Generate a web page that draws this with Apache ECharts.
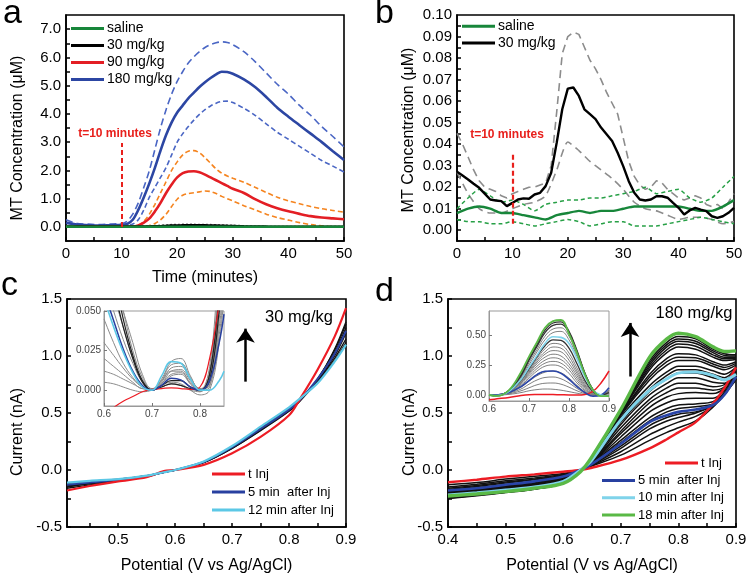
<!DOCTYPE html>
<html><head><meta charset="utf-8">
<script src="https://cdn.jsdelivr.net/npm/echarts/dist/echarts.min.js"></script>
<style>html,body{margin:0;padding:0;background:#fff}#chart{width:750px;height:579px}</style>
</head><body><div id="chart"></div>
<script>
// ---------------- DATA ----------------
// Panel a: time (minutes) and MT concentration (uM)
const timeA = [0,2,4,6,8,10,11,12,13,14,15,16,17,18,19,20,21,22,23,24,25,26,27,28,29,30,32,34,36,38,40,42,44,46,48,50];
const saline_a = [0.01,0.006,0.005,0.005,0.005,0.006,0.006,0.005,0.005,0.005,0.005,0.006,0.006,0.006,0.007,0.007,0.007,0.007,0.007,0.007,0.007,0.006,0.006,0.006,0.006,0.006,0.005,0.005,0.005,0.005,0.004,0.004,0.004,0.004,0.004,0.004];
const mg30_a = [0.02,0.02,0.02,0.02,0.02,0.02,0.02,0.02,0.02,0.02,0.02,0.025,0.03,0.04,0.05,0.055,0.06,0.063,0.065,0.064,0.06,0.055,0.05,0.045,0.04,0.035,0.025,0.02,0.015,0.012,0.01,0.01,0.01,0.01,0.01,0.01];
const mg30_a_hi = [0.04,0.03,0.03,0.03,0.03,0.03,0.03,0.03,0.03,0.035,0.04,0.05,0.06,0.075,0.085,0.09,0.095,0.095,0.095,0.09,0.088,0.085,0.08,0.075,0.07,0.06,0.045,0.03,0.025,0.02,0.02,0.018,0.016,0.015,0.015,0.015];
const mg90_a = [0.02,0.01,0.01,0.01,0.01,0.01,0.01,0.01,0.05,0.15,0.3,0.55,0.85,1.2,1.5,1.75,1.9,1.96,1.97,1.93,1.85,1.75,1.65,1.55,1.45,1.35,1.2,0.98,0.8,0.66,0.55,0.46,0.38,0.33,0.3,0.27];
const mg90_a_hi = [0.03,0.02,0.02,0.02,0.02,0.02,0.02,0.02,0.05,0.2,0.45,0.8,1.2,1.6,2.0,2.3,2.55,2.68,2.7,2.62,2.45,2.25,2.05,1.9,1.8,1.72,1.58,1.4,1.22,1.05,0.92,0.82,0.72,0.64,0.58,0.52];
const mg90_a_lo = [0,0,0,0,0,0,0,0,0,0,0.05,0.12,0.25,0.45,0.72,0.98,1.12,1.18,1.21,1.24,1.27,1.25,1.18,1.08,1.0,0.92,0.75,0.6,0.45,0.33,0.24,0.15,0.08,0.04,0.01,0.0];
const mg180_a = [0.15,0.08,0.06,0.05,0.06,0.07,0.1,0.25,0.6,1.05,1.55,2.1,2.7,3.25,3.7,4.05,4.3,4.55,4.75,4.95,5.12,5.27,5.4,5.49,5.48,5.42,5.22,4.95,4.6,4.22,3.9,3.6,3.3,3.0,2.68,2.37];
const mg180_a_hi = [0.25,0.12,0.1,0.08,0.1,0.12,0.2,0.45,0.85,1.4,2.0,2.75,3.5,4.15,4.7,5.15,5.5,5.8,6.02,6.2,6.35,6.45,6.52,6.55,6.53,6.45,6.2,5.85,5.45,5.05,4.7,4.3,3.95,3.55,3.2,2.83];
const mg180_a_lo = [0.05,0.03,0.02,0.02,0.03,0.04,0.05,0.1,0.25,0.6,1.05,1.4,1.75,2.1,2.55,3.0,3.3,3.55,3.78,3.98,4.15,4.28,4.38,4.44,4.45,4.4,4.2,3.95,3.65,3.35,3.1,2.85,2.6,2.35,2.15,1.94];

// Panel b
const timeB1 = [0,1,2,3,4,5,6,7,8,9,10,11,12,13,14,15,16,17,18,19,20,21,22,23,24,25,26,27,28,29,30,31,32,33,34,35,36,37,38,39,40,41,42,43,44,45,46,47,48,49,50];
const mg30_b = [0.0272,0.0254,0.0236,0.0216,0.0197,0.017,0.0143,0.0138,0.0135,0.0112,0.0127,0.0143,0.0148,0.0146,0.0166,0.0174,0.0205,0.0267,0.0407,0.0562,0.0658,0.0663,0.0624,0.0562,0.0539,0.0516,0.0477,0.0446,0.0415,0.036,0.0298,0.0228,0.0174,0.0143,0.0138,0.0143,0.0158,0.0158,0.0151,0.0127,0.0104,0.0073,0.0092,0.0104,0.0096,0.0089,0.0065,0.0057,0.0065,0.0081,0.0104];
const mg30_b_hi = [0.045,0.04,0.034,0.028,0.023,0.02,0.019,0.018,0.016,0.015,0.017,0.018,0.019,0.02,0.02,0.021,0.022,0.03,0.055,0.082,0.09,0.092,0.091,0.085,0.079,0.075,0.07,0.064,0.059,0.054,0.043,0.032,0.025,0.021,0.019,0.02,0.023,0.022,0.019,0.017,0.015,0.014,0.015,0.016,0.015,0.012,0.011,0.012,0.01,0.013,0.017];
const timeB2 = [0,2,4,6,8,10,12,14,16,18,20,22,24,26,28,30,32,34,36,38,40,42,44,46,48,50];
const mg30_b_lo = [0.027,0.017,0.01,0.008,0.008,0.01,0.012,0.013,0.016,0.028,0.041,0.037,0.032,0.028,0.024,0.019,0.013,0.01,0.009,0.007,0.005,0.006,0.006,0.005,0.003,0.004];
const saline_b = [0.008,0.01,0.011,0.01,0.008,0.008,0.007,0.006,0.005,0.007,0.008,0.009,0.008,0.009,0.009,0.01,0.011,0.011,0.011,0.011,0.011,0.01,0.009,0.009,0.011,0.014];
const saline_b_hi = [0.01,0.015,0.019,0.016,0.013,0.014,0.012,0.009,0.012,0.013,0.014,0.014,0.015,0.015,0.016,0.017,0.018,0.02,0.017,0.018,0.019,0.015,0.013,0.015,0.02,0.025];
const saline_b_lo = [0.005,0.004,0.004,0.003,0.003,0.004,0.003,0.002,0.003,0.004,0.005,0.004,0.002,0.003,0.004,0.004,0.002,0.002,0.002,0.003,0.004,0.005,0.006,0.005,0.004,0.003];

// Panel c (30 mg/kg voltammograms)
const potC = [0.41,0.45,0.5,0.55,0.58,0.6,0.65,0.7,0.75,0.8,0.82,0.85,0.88,0.9];
const tInj_c = [-0.18,-0.14,-0.1,-0.064,-0.01,0,0.045,0.146,0.29,0.48,0.63,0.88,1.17,1.42];
const min5_c = [-0.13,-0.11,-0.085,-0.055,-0.02,0,0.07,0.2,0.36,0.53,0.62,0.8,1.02,1.22];
const min12_c = [-0.11,-0.095,-0.08,-0.05,-0.02,0,0.075,0.21,0.38,0.55,0.63,0.76,0.95,1.1];
const others_c = [
  [-0.16,-0.13,-0.095,-0.06,-0.02,0,0.065,0.19,0.35,0.52,0.61,0.78,1.0,1.2],
  [-0.15,-0.12,-0.09,-0.055,-0.02,0,0.067,0.195,0.355,0.525,0.615,0.79,1.03,1.25],
  [-0.14,-0.115,-0.088,-0.055,-0.02,0,0.068,0.2,0.36,0.53,0.62,0.8,1.05,1.28],
  [-0.13,-0.11,-0.085,-0.05,-0.02,0,0.07,0.2,0.37,0.54,0.62,0.78,0.98,1.15],
  [-0.12,-0.1,-0.08,-0.05,-0.02,0,0.072,0.205,0.37,0.545,0.625,0.77,0.96,1.12],
  [-0.145,-0.12,-0.09,-0.055,-0.02,0,0.066,0.19,0.345,0.515,0.61,0.79,1.06,1.3]
];
// Inset c
const potCi = [0.6,0.62,0.64,0.66,0.68,0.7,0.72,0.74,0.76,0.78,0.8,0.82,0.84,0.85];
const tInj_ci = [-0.016,-0.011,-0.007,-0.004,-0.001,0.0005,0.001,0.0015,0.001,0.0005,0.002,0.02,0.055,0.08];
const min5_ci = [0.062,0.044,0.026,0.012,0.003,0.0,0.003,0.0075,0.0065,0.002,0.0,0.006,0.03,0.048];
const min12_ci = [0.058,0.04,0.024,0.011,0.002,0.0,0.009,0.018,0.017,0.007,0.0,0.0,0.006,0.012];
const grays_ci = [
  [0.08,0.06,0.04,0.02,0.006,0.0,0.004,0.012,0.013,0.006,0.0,0.004,0.04,0.07],
  [0.045,0.03,0.017,0.008,0.002,0.0,0.005,0.014,0.015,0.007,0.001,0.006,0.05,0.08],
  [0.02,0.015,0.01,0.005,0.001,0.001,0.006,0.012,0.012,0.004,0.0,0.01,0.06,0.09],
  [0.012,0.01,0.007,0.004,0.001,0.0,0.003,0.009,0.01,0.004,-0.001,0.012,0.07,0.1],
  [0.005,0.004,0.002,0.0,-0.001,0.0,0.003,0.005,0.004,0.0,-0.003,0.0,0.03,0.06],
  [0.07,0.05,0.032,0.017,0.005,0.0,0.006,0.016,0.017,0.008,0.001,0.003,0.035,0.065],
  [0.09,0.07,0.05,0.03,0.01,0.001,0.002,0.004,0.003,0.0,-0.001,0.008,0.055,0.09],
  [0.1,0.075,0.05,0.025,0.008,0.0,0.007,0.018,0.02,0.009,0.0,0.002,0.045,0.08],
  [0.03,0.022,0.014,0.007,0.002,0.0,0.004,0.01,0.011,0.005,0.0,0.015,0.08,0.1]
];
const darks_ci = [
  [0.09,0.065,0.04,0.02,0.005,0.0,0.003,0.006,0.006,0.002,0.0,0.01,0.06,0.09],
  [0.1,0.075,0.045,0.022,0.006,0.0,0.002,0.004,0.003,0.001,0.0,0.006,0.05,0.085]
];

// Panel d (180 mg/kg voltammograms)
const potD = [0.4,0.45,0.5,0.55,0.6,0.63,0.65,0.7,0.75,0.78,0.8,0.83,0.86,0.88,0.9];
const tInj_d = [-0.108,-0.085,-0.058,-0.038,-0.015,0,0.02,0.088,0.19,0.27,0.33,0.42,0.58,0.72,0.9];
const min5_d = [-0.18,-0.16,-0.13,-0.1,-0.058,0,0.053,0.23,0.42,0.48,0.51,0.53,0.57,0.66,0.82];
const min10_d = [-0.22,-0.2,-0.175,-0.15,-0.1,0,0.088,0.44,0.7,0.8,0.85,0.86,0.83,0.79,0.84];
const min18_d = [-0.228,-0.21,-0.19,-0.16,-0.117,-0.015,0.117,0.53,0.99,1.15,1.2,1.17,1.08,1.04,1.045];
const others_d = [
  [-0.13,-0.11,-0.08,-0.055,-0.03,0,0.035,0.13,0.26,0.33,0.37,0.43,0.55,0.68,0.8],
  [-0.15,-0.125,-0.095,-0.07,-0.04,0,0.04,0.16,0.31,0.38,0.42,0.47,0.56,0.67,0.8],
  [-0.16,-0.135,-0.105,-0.08,-0.045,0,0.045,0.19,0.36,0.43,0.46,0.5,0.57,0.67,0.79],
  [-0.17,-0.145,-0.115,-0.085,-0.05,0,0.05,0.21,0.39,0.46,0.49,0.51,0.56,0.66,0.8],
  [-0.18,-0.155,-0.128,-0.1,-0.06,0,0.055,0.24,0.43,0.51,0.54,0.555,0.58,0.67,0.82],
  [-0.185,-0.16,-0.135,-0.105,-0.062,0,0.058,0.26,0.46,0.54,0.57,0.58,0.6,0.68,0.83],
  [-0.19,-0.165,-0.14,-0.11,-0.067,0,0.062,0.29,0.51,0.59,0.62,0.63,0.63,0.7,0.85],
  [-0.195,-0.17,-0.145,-0.118,-0.072,0,0.066,0.32,0.55,0.64,0.67,0.68,0.67,0.72,0.86],
  [-0.2,-0.175,-0.15,-0.122,-0.077,0,0.07,0.34,0.59,0.68,0.72,0.72,0.7,0.73,0.86],
  [-0.205,-0.18,-0.155,-0.128,-0.082,0,0.074,0.37,0.62,0.72,0.76,0.76,0.73,0.75,0.87],
  [-0.21,-0.185,-0.16,-0.133,-0.087,0,0.078,0.4,0.66,0.76,0.81,0.81,0.77,0.76,0.87],
  [-0.215,-0.19,-0.165,-0.14,-0.092,0,0.082,0.42,0.69,0.8,0.85,0.85,0.81,0.79,0.88],
  [-0.22,-0.195,-0.172,-0.146,-0.098,0,0.087,0.44,0.71,0.83,0.88,0.88,0.84,0.81,0.89],
  [-0.225,-0.2,-0.178,-0.152,-0.103,0,0.092,0.46,0.74,0.86,0.91,0.91,0.87,0.84,0.9],
  [-0.23,-0.205,-0.182,-0.156,-0.107,0,0.096,0.48,0.79,0.92,0.96,0.96,0.91,0.88,0.92],
  [-0.232,-0.207,-0.184,-0.158,-0.108,-0.002,0.098,0.485,0.815,0.95,0.99,0.985,0.93,0.9,0.935],
  [-0.235,-0.21,-0.186,-0.16,-0.11,-0.005,0.1,0.49,0.84,0.98,1.02,1.01,0.95,0.92,0.95],
  [-0.24,-0.215,-0.19,-0.163,-0.113,-0.008,0.105,0.5,0.88,1.03,1.08,1.06,0.99,0.96,0.97],
  [-0.242,-0.217,-0.192,-0.165,-0.115,-0.009,0.108,0.505,0.9,1.055,1.105,1.085,1.01,0.975,0.98],
  [-0.245,-0.22,-0.195,-0.166,-0.116,-0.01,0.11,0.51,0.92,1.08,1.13,1.11,1.03,0.99,0.99],
  [-0.248,-0.222,-0.196,-0.167,-0.117,-0.011,0.112,0.515,0.94,1.1,1.15,1.13,1.045,1.005,1.0],
  [-0.25,-0.225,-0.198,-0.168,-0.118,-0.012,0.113,0.52,0.96,1.12,1.17,1.15,1.06,1.02,1.01]
];
// Inset d
const potDi = [0.6,0.62,0.65,0.68,0.7,0.72,0.74,0.76,0.78,0.8,0.82,0.84,0.86,0.88,0.9];
const tInj_di = [-0.04,-0.032,-0.02,-0.005,0.002,0.004,0.005,0.004,0.002,0.0,0.0,0.005,0.03,0.1,0.2];
const min5_di = [0.0,0.0,0.02,0.07,0.12,0.17,0.198,0.2,0.18,0.13,0.07,0.02,-0.01,0.0,0.06];
const min10_di = [0.0,-0.005,0.03,0.13,0.23,0.33,0.43,0.485,0.48,0.43,0.3,0.15,0.04,0.0,-0.01];
const min18_di = [0.0,-0.008,0.04,0.19,0.32,0.44,0.56,0.615,0.625,0.51,0.35,0.17,0.04,-0.01,-0.01];
const grays_di = [
  [0.0,0.0,0.005,0.02,0.035,0.045,0.05,0.048,0.04,0.028,0.015,0.005,0.0,0.0,0.01],
  [0.0,0.0,0.01,0.035,0.06,0.085,0.098,0.1,0.09,0.065,0.035,0.012,0.0,0.0,0.02],
  [0.0,0.0,0.015,0.05,0.09,0.125,0.146,0.15,0.135,0.1,0.055,0.018,0.0,0.0,0.03],
  [0.0,0.0,0.018,0.065,0.115,0.16,0.19,0.2,0.185,0.14,0.08,0.025,0.0,0.0,0.035],
  [0.0,0.0,0.02,0.08,0.14,0.2,0.24,0.25,0.235,0.18,0.1,0.035,0.0,0.0,0.04],
  [0.0,0.0,0.022,0.09,0.155,0.22,0.265,0.28,0.265,0.21,0.12,0.045,0.005,0.0,0.04],
  [0.0,0.0,0.024,0.1,0.17,0.24,0.29,0.31,0.295,0.235,0.14,0.055,0.008,0.0,0.04],
  [0.0,0.0,0.026,0.105,0.18,0.26,0.315,0.34,0.325,0.26,0.16,0.065,0.01,0.0,0.04],
  [0.0,0.0,0.027,0.11,0.19,0.275,0.34,0.37,0.36,0.29,0.18,0.075,0.015,0.0,0.04],
  [0.0,0.0,0.028,0.115,0.2,0.29,0.36,0.4,0.39,0.32,0.2,0.085,0.02,0.0,0.035],
  [0.0,0.0,0.029,0.12,0.21,0.305,0.385,0.43,0.42,0.35,0.225,0.1,0.025,0.0,0.03],
  [0.0,-0.005,0.033,0.14,0.25,0.36,0.46,0.52,0.53,0.46,0.32,0.16,0.045,0.0,0.0],
  [0.0,-0.005,0.035,0.15,0.27,0.38,0.49,0.55,0.56,0.49,0.34,0.17,0.045,0.0,-0.005]
];
const darks_di = [
  [0.0,0.0,0.03,0.125,0.22,0.32,0.41,0.46,0.455,0.39,0.26,0.12,0.03,0.0,0.02],
  [0.0,-0.006,0.037,0.16,0.29,0.405,0.52,0.58,0.59,0.52,0.36,0.18,0.045,-0.005,-0.01],
  [0.0,-0.007,0.038,0.17,0.3,0.42,0.54,0.6,0.61,0.53,0.37,0.18,0.045,-0.005,-0.01]
];

// Tick labels / tick positions
const timeLabels = [0,10,20,30,40,50];
const timeTicks = [0,5,10,15,20,25,30,35,40,45,50];
const concLabelsA = [0,1,2,3,4,5,6,7];
const concTicksA = [0,0.5,1,1.5,2,2.5,3,3.5,4,4.5,5,5.5,6,6.5,7];
const concLabelsB = [0,0.01,0.02,0.03,0.04,0.05,0.06,0.07,0.08,0.09,0.1];
const concTicksB = [0,0.005,0.01,0.015,0.02,0.025,0.03,0.035,0.04,0.045,0.05,0.055,0.06,0.065,0.07,0.075,0.08,0.085,0.09,0.095];
const potLabelsC = [0.5,0.6,0.7,0.8,0.9];
const potTicksC = [0.45,0.5,0.55,0.6,0.65,0.7,0.75,0.8,0.85,0.9];
const potLabelsD = [0.4,0.5,0.6,0.7,0.8,0.9];
const potTicksD = [0.4,0.45,0.5,0.55,0.6,0.65,0.7,0.75,0.8,0.85,0.9];
const curLabels = [-0.5,0,0.5,1,1.5];
const curTicks = [-0.5,-0.25,0,0.25,0.5,0.75,1,1.25,1.5];
const insetCxLabels = [0.6,0.7,0.8];
const insetCyLabels = [0,0.025,0.05];
const insetDxLabels = [0.6,0.7,0.8,0.9];
const insetDyLabels = [0,0.25,0.5];

// ---------------- CHART ----------------
const FONT = '"Liberation Sans", Arial, Helvetica, sans-serif';
const zip = (xs, ys) => xs.map((x, i) => [x, ys[i]]);

function S(name, xs, ys, color, width, gi, dash, smooth, z) {
  return {
    type: 'line', name, xAxisIndex: gi, yAxisIndex: gi, data: zip(xs, ys),
    showSymbol: false, symbol: 'none', smooth: smooth === undefined ? 0.3 : smooth,
    lineStyle: { color, width, type: dash || 'solid' }, itemStyle: { color },
    silent: true, animation: false, z: z || 2
  };
}

function axis(gi, min, max, labels, ticks, digits, opts) {
  opts = opts || {};
  const inset = !!opts.inset;
  return {
    type: 'value', gridIndex: gi, min, max,
    name: opts.name || '', nameLocation: 'middle', nameGap: opts.nameGap || 20,
    nameTextStyle: { fontSize: 16, color: '#000', fontFamily: FONT },
    axisLine: { show: true, onZero: false, lineStyle: { color: inset ? '#999' : '#000', width: inset ? 1 : 1.6 } },
    axisTick: { show: true, inside: true, length: inset ? 3 : 4, customValues: ticks,
      lineStyle: { color: inset ? '#777' : '#000', width: inset ? 1 : 1.5 } },
    axisLabel: { customValues: labels, formatter: v => Number(v).toFixed(digits),
      fontSize: inset ? 10 : 15, color: inset ? '#444' : '#000', margin: inset ? 3 : 5, fontFamily: FONT },
    splitLine: { show: false }
  };
}

const series = [];
// ---- a ----
series.push(S('180 hi', timeA, mg180_a_hi, '#4a66c4', 1.6, 0, [7, 4]));
series.push(S('180 lo', timeA, mg180_a_lo, '#4a66c4', 1.6, 0, [5, 3]));
series.push(S('90 hi', timeA, mg90_a_hi, '#f5841f', 1.6, 0, [5, 3]));
series.push(S('90 lo', timeA, mg90_a_lo, '#f5841f', 1.6, 0, [5, 3]));
series.push(S('30 hi', timeA, mg30_a_hi, '#666', 1.2, 0, [2, 2]));
series.push(S('180 mg/kg', timeA, mg180_a, '#2c46a3', 2.6, 0));
series.push(S('90 mg/kg', timeA, mg90_a, '#e31e24', 2.6, 0));
series.push(S('30 mg/kg', timeA, mg30_a, '#000', 2.2, 0));
const salA = S('saline', timeA, saline_a, '#17863a', 2.6, 0);
salA.markLine = { silent: true, symbol: 'none', label: { show: false }, animation: false,
  lineStyle: { color: '#e8201c', type: [5, 3], width: 2 },
  data: [[{ coord: [10, 0] }, { coord: [10, 2.97] }]] };
series.push(salA);
// ---- b ----
series.push(S('30 b hi', timeB1, mg30_b_hi, '#8c8c8c', 1.6, 1, [8, 5], false));
series.push(S('30 b lo', timeB2, mg30_b_lo, '#8c8c8c', 1.6, 1, [8, 5], 0.2));
series.push(S('sal b hi', timeB2, saline_b_hi, '#27a046', 1.5, 1, [4, 3], 0.2));
series.push(S('sal b lo', timeB2, saline_b_lo, '#27a046', 1.5, 1, [4, 3], 0.2));
series.push(S('saline', timeB2, saline_b, '#17863a', 2.4, 1, null, 0.2));
const b30 = S('30 mg/kg', timeB1, mg30_b, '#000', 2.4, 1, null, false);
b30.markLine = { silent: true, symbol: 'none', label: { show: false }, animation: false,
  lineStyle: { color: '#e8201c', type: [5, 3], width: 2.2 },
  data: [[{ coord: [10, 0.003] }, { coord: [10, 0.0365] }]] };
series.push(b30);
// ---- c ----
others_c.forEach((arr, i) => series.push(S('c trace ' + i, potC, arr, '#111', 1.3, 2)));
series.push(S('5 min  after Inj', potC, min5_c, '#2840a0', 2, 2, null, 0.3, 3));
const cRed = S('t Inj', potC, tInj_c, '#ed1c24', 2.2, 2, null, 0.3, 3);
cRed.markLine = { silent: true, symbol: ['none', 'arrow'], symbolSize: 14, label: { show: false }, animation: false,
  lineStyle: { color: '#000', type: 'solid', width: 2.5 },
  data: [[{ coord: [0.7235, 0.775] }, { coord: [0.7235, 1.24] }]] };
series.push(cRed);
series.push(S('12 min after Inj', potC, min12_c, '#5cc8e6', 2.2, 2, null, 0.3, 3));
// inset c
grays_ci.forEach((arr, i) => series.push(S('ci gray ' + i, potCi, arr, '#8a8a8a', 1, 4, null, 0.4)));
darks_ci.forEach((arr, i) => series.push(S('ci dark ' + i, potCi, arr, '#222', 1.2, 4, null, 0.4)));
series.push(S('t Inj', potCi, tInj_ci, '#ed1c24', 1.2, 4, null, 0.4, 3));
series.push(S('5 min  after Inj', potCi, min5_ci, '#2840a0', 1.5, 4, null, 0.4, 3));
series.push(S('12 min after Inj', potCi, min12_ci, '#5cc8e6', 1.6, 4, null, 0.4, 3));
// ---- d ----
others_d.forEach((arr, i) => series.push(S('d trace ' + i, potD, arr, '#111', 1.5, 3)));
series.push(S('t Inj', potD, tInj_d, '#ed1c24', 2.4, 3, null, 0.3, 3));
const dBlue = S('5 min  after Inj', potD, min5_d, '#2a45a8', 2.6, 3, null, 0.3, 3);
dBlue.markLine = { silent: true, symbol: ['none', 'arrow'], symbolSize: 14, label: { show: false }, animation: false,
  lineStyle: { color: '#000', type: 'solid', width: 2.5 },
  data: [[{ coord: [0.716, 0.82] }, { coord: [0.716, 1.29] }]] };
series.push(dBlue);
series.push(S('10 min after Inj', potD, min10_d, '#7fd3ea', 3, 3, null, 0.3, 3));
series.push(S('18 min after Inj', potD, min18_d, '#5ab946', 3.4, 3, null, 0.3, 3));
// inset d
grays_di.forEach((arr, i) => series.push(S('di gray ' + i, potDi, arr, '#808080', 1, 5, null, 0.4)));
darks_di.forEach((arr, i) => series.push(S('di dark ' + i, potDi, arr, '#333', 1.3, 5, null, 0.4)));
series.push(S('t Inj', potDi, tInj_di, '#ed1c24', 1.5, 5, null, 0.4, 3));
series.push(S('5 min  after Inj', potDi, min5_di, '#2a45a8', 1.6, 5, null, 0.4, 3));
series.push(S('10 min after Inj', potDi, min10_di, '#7fd3ea', 1.6, 5, null, 0.4, 3));
series.push(S('18 min after Inj', potDi, min18_di, '#5ab946', 1.8, 5, null, 0.4, 3));

const legendBase = { orient: 'vertical', icon: 'rect', itemWidth: 33, itemHeight: 3, itemGap: 0, padding: 0, selectedMode: false };
function legend(left, top, data, fontSize, lineHeight) {
  return Object.assign({}, legendBase, { left, top, data,
    textStyle: { fontSize, lineHeight, color: '#000', fontFamily: FONT, padding: [0, 0, 0, -2] } });
}

function txt(x, y, text, font, fill, rot) {
  return { type: 'text', x, y, rotation: rot || 0, silent: true,
    style: { text, font, fill: fill || '#000', textAlign: 'center', textVerticalAlign: 'middle', verticalAlign: 'middle' } };
}

const option = {
  animation: false,
  backgroundColor: '#fff',
  grid: [
    { left: 66, top: 15, width: 278, height: 226, show: true, borderColor: '#000', borderWidth: 1.6, backgroundColor: 'transparent' },
    { left: 457, top: 15, width: 277, height: 226, show: true, borderColor: '#000', borderWidth: 1.6, backgroundColor: 'transparent' },
    { left: 67, top: 299, width: 279, height: 228, show: true, borderColor: '#000', borderWidth: 1.6, backgroundColor: 'transparent' },
    { left: 448, top: 299, width: 288, height: 228, show: true, borderColor: '#000', borderWidth: 1.6, backgroundColor: 'transparent' },
    { left: 104, top: 311, width: 120, height: 95, show: true, borderColor: '#999', borderWidth: 1, backgroundColor: '#fff' },
    { left: 489, top: 311, width: 120, height: 90, show: true, borderColor: '#999', borderWidth: 1, backgroundColor: '#fff' }
  ],
  xAxis: [
    axis(0, 0, 50, timeLabels, timeTicks, 0, { name: 'Time (minutes)', nameGap: 29 }),
    axis(1, 0, 50, timeLabels, timeTicks, 0),
    axis(2, 0.41, 0.9, potLabelsC, potTicksC, 1, { name: 'Potential (V vs Ag/AgCl)', nameGap: 31 }),
    axis(3, 0.4, 0.9, potLabelsD, potTicksD, 1, { name: 'Potential (V vs Ag/AgCl)', nameGap: 31 }),
    axis(4, 0.6, 0.85, insetCxLabels, insetCxLabels, 1, { inset: true }),
    axis(5, 0.6, 0.9, insetDxLabels, insetDxLabels, 1, { inset: true })
  ],
  yAxis: [
    axis(0, -0.5, 7.5, concLabelsA, concTicksA, 1),
    axis(1, -0.005, 0.1, concLabelsB, concTicksB, 2),
    axis(2, -0.5, 1.5, curLabels, curTicks, 1),
    axis(3, -0.5, 1.5, curLabels, curTicks, 1),
    axis(4, -0.01, 0.05, insetCyLabels, insetCyLabels, 3, { inset: true }),
    axis(5, -0.05, 0.7, insetDyLabels, insetDyLabels, 2, { inset: true })
  ],
  legend: [
    legend(71, 20, ['saline', '30 mg/kg', '90 mg/kg', '180 mg/kg'], 14, 17),
    legend(462, 18, ['saline', '30 mg/kg'], 14, 16.6),
    legend(212, 465, ['t Inj', '5 min  after Inj', '12 min after Inj'], 13, 18),
    legend(665, 454, ['t Inj'], 13, 18),
    legend(602, 472, ['5 min  after Inj', '10 min after Inj', '18 min after Inj'], 13, 17.2)
  ],
  graphic: [
    { type: 'text', x: 3, y: 14, silent: true, style: { text: 'a', font: '34px ' + FONT, fill: '#000', textAlign: 'left', textVerticalAlign: 'middle', verticalAlign: 'middle' } },
    { type: 'text', x: 375, y: 14, silent: true, style: { text: 'b', font: '34px ' + FONT, fill: '#000', textAlign: 'left', textVerticalAlign: 'middle', verticalAlign: 'middle' } },
    { type: 'text', x: 1, y: 286, silent: true, style: { text: 'c', font: '34px ' + FONT, fill: '#000', textAlign: 'left', textVerticalAlign: 'middle', verticalAlign: 'middle' } },
    { type: 'text', x: 375, y: 292, silent: true, style: { text: 'd', font: '34px ' + FONT, fill: '#000', textAlign: 'left', textVerticalAlign: 'middle', verticalAlign: 'middle' } },
    txt(18, 138, 'MT Concentration (\u03bcM)', '16px ' + FONT, '#000', Math.PI / 2),
    txt(409, 130, 'MT Concentration (\u03bcM)', '16px ' + FONT, '#000', Math.PI / 2),
    txt(18, 432, 'Current (nA)', '16px ' + FONT, '#000', Math.PI / 2),
    txt(410, 432, 'Current (nA)', '16px ' + FONT, '#000', Math.PI / 2),
    txt(115, 134, 't=10 minutes', 'bold 12px ' + FONT, '#e8201c'),
    txt(507, 135, 't=10 minutes', 'bold 12px ' + FONT, '#e8201c'),
    txt(299, 317, '30 mg/kg', '16.5px ' + FONT, '#000'),
    txt(694, 313, '180 mg/kg', '16.5px ' + FONT, '#000')
  ],
  series
};

const chart = echarts.init(document.getElementById('chart'), null, { renderer: 'canvas' });
chart.setOption(option);
</script></body></html>
